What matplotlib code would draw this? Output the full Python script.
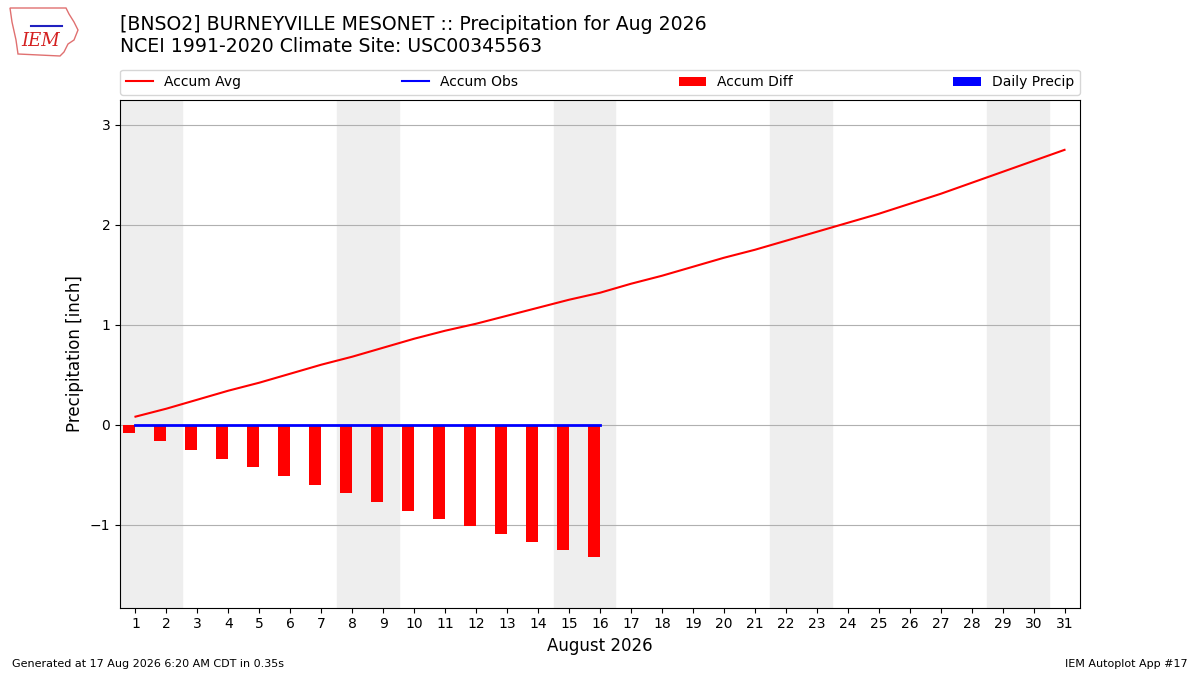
import matplotlib
matplotlib.use('Agg')
import matplotlib.pyplot as plt
from matplotlib.patches import Polygon
import numpy as np

days = list(range(1, 32))
accum_avg = [0.08, 0.16, 0.25, 0.34, 0.42, 0.51, 0.60, 0.68, 0.77, 0.86, 0.94, 1.01,
             1.09, 1.17, 1.25, 1.32, 1.41, 1.49, 1.58, 1.67, 1.75, 1.84, 1.93, 2.02,
             2.11, 2.21, 2.31, 2.42, 2.53, 2.64, 2.75]
obs_days = list(range(1, 17))
accum_obs = [0.0] * 16
daily_precip = [0.0] * 16
accum_diff = [-0.08, -0.16, -0.25, -0.34, -0.42, -0.51, -0.60, -0.68, -0.77, -0.86,
              -0.94, -1.01, -1.09, -1.17, -1.25, -1.32]
weekends = [(1, 2), (8, 9), (15, 16), (22, 23), (29, 30)]

fig = plt.figure(figsize=(12, 6.75), dpi=100)
ax = fig.add_axes([0.1, 0.1, 0.8, 0.752])

for a, b in weekends:
    ax.axvspan(a - 0.5, b + 0.5, color='#eeeeee', zorder=0)

ax.plot(days, accum_avg, color='r', label='Accum Avg', zorder=3)
ax.plot(obs_days, accum_obs, color='b', lw=2, label='Accum Obs', zorder=4)
ax.bar(obs_days, accum_diff, width=-0.4, align='edge', color='r', label='Accum Diff', zorder=2)
ax.bar(obs_days, daily_precip, width=0.4, align='edge', color='b', label='Daily Precip', zorder=2)

ax.set_xlim(0.5, 31.5)
ax.set_ylim(-1.83, 3.25)
ax.set_xticks(days)
ax.set_yticks([-1, 0, 1, 2, 3])
ax.yaxis.grid(True, color='#b0b0b0', lw=0.8)
ax.set_axisbelow(True)
ax.tick_params(labelsize=10)
ax.set_xlabel('August 2026', fontsize=12)
ax.set_ylabel('Precipitation [inch]', fontsize=12)

leg = ax.legend(loc='lower left', bbox_to_anchor=(0, 1.01, 1, 0.1), mode='expand',
                ncol=4, fontsize=10, borderaxespad=0)
leg.get_lines()[1].set_linewidth(1.5)

fig.text(0.1, 0.947, '[BNSO2] BURNEYVILLE MESONET :: Precipitation for Aug 2026\n'
         'NCEI 1991-2020 Climate Site: USC00345563', fontsize=13.6, va='center')
fig.text(0.01, 0.012, 'Generated at 17 Aug 2026 6:20 AM CDT in 0.35s', fontsize=8)
fig.text(0.99, 0.012, 'IEM Autoplot App #17', fontsize=8, ha='right')

# rough state outline logo
logo_x = [10, 66, 69, 74, 78, 74, 68, 64, 60, 18, 16, 12, 10]
logo_y = [8, 8, 14, 22, 30, 40, 44, 52, 56, 54, 40, 22, 8]
fig.patches.append(Polygon([(x / 1200, 1 - y / 675) for x, y in zip(logo_x, logo_y)],
                           closed=True, fill=False, edgecolor='#e07070', lw=1,
                           transform=fig.transFigure))
fig.text(0.0175, 0.932, 'IEM', fontsize=13, color='#d42020', style='italic', family='DejaVu Serif')
fig.lines.append(plt.Line2D([31 / 1200, 62 / 1200], [1 - 26 / 675, 1 - 26 / 675],
                            color='#2020c0', lw=1.5, transform=fig.transFigure))

fig.savefig('out.png', dpi=100)
